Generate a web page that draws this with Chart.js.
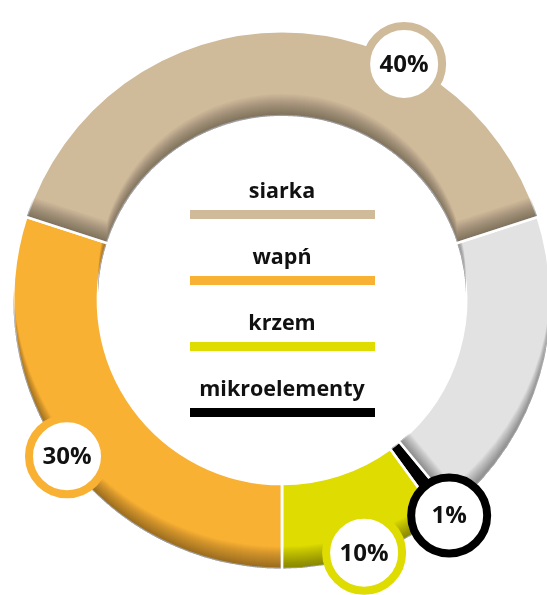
<!DOCTYPE html>
<html>
<head>
<meta charset="utf-8">
<script src="https://cdn.jsdelivr.net/npm/chart.js@4.4.0/dist/chart.umd.min.js"></script>
<style>
    html, body { margin: 0; padding: 0; background: #fff; overflow: hidden; width: 547px; height: 595px; }
    #wrap { position: absolute; left: 0; top: 0; width: 564px; height: 600px; }
</style>
</head>
<body>
<div id="wrap"><canvas id="mineralChart" width="564" height="600"></canvas></div>
<script>
// Data
const categories = ['siarka', 'pozostałe', 'mikroelementy', 'krzem', 'wapń'];
const shares = [40, 19, 1, 10, 30];
const colors = ['#cfba9a', '#e2e2e2', '#000000', '#dedc00', '#f8b133'];
const badgeShown = [true, false, true, true, true];
const badgeSlot = [0.69, 0.5, 0.5, 0.5, 0.5];   // where along each arc the % badge sits

const legendItems = ['siarka', 'wapń', 'krzem', 'mikroelementy'];
const legendColors = ['#cfba9a', '#f8b133', '#dedc00', '#000000'];

function arcPath(ctx, arc) {
    ctx.moveTo(arc.x + Math.cos(arc.startAngle) * arc.outerRadius, arc.y + Math.sin(arc.startAngle) * arc.outerRadius);
    ctx.arc(arc.x, arc.y, arc.outerRadius, arc.startAngle, arc.endAngle);
    ctx.arc(arc.x, arc.y, arc.innerRadius, arc.endAngle, arc.startAngle, true);
    ctx.closePath();
}

// soft shading along the lower edges of every segment (stacked vertical shifts)
const shadowPlugin = {
    id: 'insetShadow',
    afterDatasetsDraw(chart) {
        const ctx = chart.ctx;
        const arcs = chart.getDatasetMeta(0).data;
        const depth = 22;
        arcs.forEach(arc => {
            ctx.save();
            ctx.beginPath();
            arcPath(ctx, arc);
            ctx.clip();
            ctx.fillStyle = 'rgba(0,0,0,0.02)';
            for (let k = 1; k <= depth; k++) {
                ctx.save();
                ctx.translate(0, -k);
                ctx.beginPath();
                ctx.rect(-1000, -1000, 3000, 3000);
                arcPath(ctx, arc);
                ctx.fill('evenodd');
                ctx.restore();
            }
            ctx.restore();
        });
        // white separators back on top
        ctx.save();
        ctx.strokeStyle = '#fff';
        ctx.lineWidth = 2.5;
        arcs.forEach(arc => {
            const a = arc.startAngle;
            ctx.beginPath();
            ctx.moveTo(arc.x + Math.cos(a) * (arc.innerRadius - 2), arc.y + Math.sin(a) * (arc.innerRadius - 2));
            ctx.lineTo(arc.x + Math.cos(a) * (arc.outerRadius + 2), arc.y + Math.sin(a) * (arc.outerRadius + 2));
            ctx.stroke();
        });
        ctx.restore();
    }
};

const overlayPlugin = {
    id: 'overlay',
    afterDraw(chart) {
        const ctx = chart.ctx;
        const arcs = chart.getDatasetMeta(0).data;
        const cx = arcs[0].x;
        const cy = arcs[0].y;

        // centre legend
        ctx.save();
        ctx.textAlign = 'center';
        ctx.textBaseline = 'alphabetic';
        ctx.font = 'bold 21.5px "Open Sans"';
        legendItems.forEach((name, i) => {
            ctx.fillStyle = '#111';
            ctx.fillText(name, cx, cy - 102 + 66 * i);
            ctx.fillStyle = legendColors[i];
            ctx.fillRect(cx - 92, cy - 90 + 66 * i, 185, 9);
        });
        ctx.restore();

        // percentage badges
        arcs.forEach((arc, i) => {
            if (!badgeShown[i]) return;
            const a = arc.startAngle + (arc.endAngle - arc.startAngle) * badgeSlot[i];
            const r = arc.outerRadius + (shares[i] < 5 ? 4 : -3);
            const bx = arc.x + Math.cos(a) * r;
            const by = arc.y + Math.sin(a) * r;
            ctx.save();
            ctx.beginPath();
            ctx.arc(bx, by, 38, 0, Math.PI * 2);
            ctx.fillStyle = '#fff';
            ctx.fill();
            ctx.lineWidth = 8;
            ctx.strokeStyle = colors[i];
            ctx.stroke();
            ctx.fillStyle = '#111';
            ctx.font = 'bold 24px "Open Sans"';
            ctx.textAlign = 'center';
            ctx.textBaseline = 'middle';
            ctx.fillText(shares[i] + '%', bx, by + 1);
            ctx.restore();
        });
    }
};

document.addEventListener('DOMContentLoaded', function() {
    const chartCtx = document.getElementById('mineralChart');
    new Chart(chartCtx, {
        type: 'doughnut',
        data: {
            labels: categories,
            datasets: [{
                data: shares,
                backgroundColor: colors,
                borderColor: '#ffffff',
                borderWidth: 2.5,
                hoverOffset: 0
            }]
        },
        options: {
            responsive: false,
            animation: false,
            events: [],
            rotation: -72,
            cutout: '68.5%',
            layout: { padding: 12 },
            plugins: {
                legend: { display: false },
                tooltip: { enabled: false }
            }
        },
        plugins: [shadowPlugin, overlayPlugin]
    });
});
</script>
</body>
</html>
